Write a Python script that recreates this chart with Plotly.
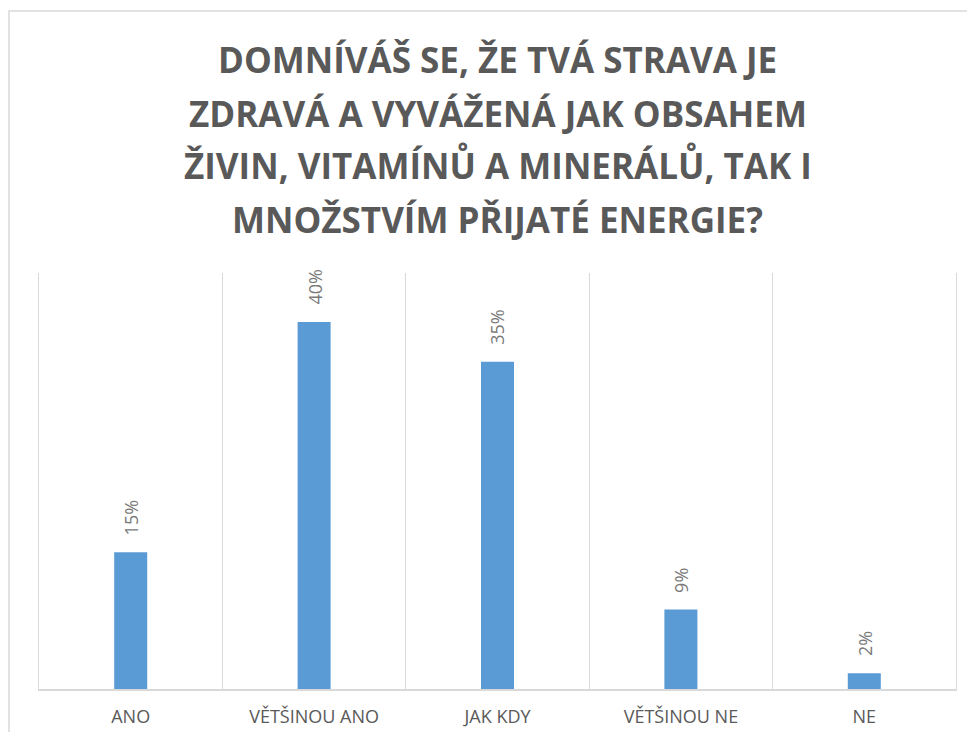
import plotly.graph_objects as go

categories = ['ANO', 'VĚTŠINOU ANO', 'JAK KDY', 'VĚTŠINOU NE', 'NE']
shares = [0.148, 0.397, 0.354, 0.086, 0.017]
title_lines = [
    'DOMNÍVÁŠ SE, ŽE TVÁ STRAVA JE',
    'ZDRAVÁ A VYVÁŽENÁ JAK OBSAHEM',
    'ŽIVIN, VITAMÍNŮ A MINERÁLŮ, TAK I',
    'MNOŽSTVÍM PŘIJATÉ ENERGIE?',
]

# the page body keeps its default 8px margin, so work in page pixels minus 8
OFF = 8
W, H = 975 - 2 * OFF, 740 - 2 * OFF
L, R, T, B = 39 - OFF, W - (956 - OFF), 273 - OFF, H - (689 - OFF)
plot_w, plot_h = W - L - R, H - T - B


def px_x(px):
    return (px - OFF - L) / plot_w


def px_y(py):
    return (H - B - (py - OFF)) / plot_h


fig = go.Figure(go.Bar(
    x=categories, y=shares,
    marker=dict(color='#5b9bd5', line=dict(width=0)),
    hoverinfo='skip',
))

# rotated data labels above the bars
for cat, val in zip(categories, shares):
    fig.add_annotation(x=cat, y=val, text=f'{val:.0%}', textangle=-90,
                       showarrow=False, yanchor='bottom', yshift=15,
                       font=dict(family='Open Sans', size=18, color='#7a7a7a'))

# title, one line per annotation to keep the wide line spacing
for i, line in enumerate(title_lines):
    fig.add_annotation(x=0.5, xref='paper', y=px_y(60 + i * 53), yref='paper',
                       text=line, showarrow=False, yanchor='middle',
                       font=dict(family='Open Sans', size=35, color='#595959',
                                 weight='bold'))

# chart frame
fig.add_shape(type='rect', xref='paper', yref='paper',
              x0=px_x(9), x1=px_x(1000), y0=px_y(780), y1=px_y(11),
              line=dict(color='#d9d9d9', width=1.5), layer='below')

fig.update_layout(
    width=W, height=H,
    margin=dict(l=L, r=R, t=T, b=B, autoexpand=False),
    paper_bgcolor='white', plot_bgcolor='white',
    bargap=0.82,
    showlegend=False,
    xaxis=dict(
        automargin=False,
        tickson='boundaries', showgrid=True, gridcolor='#d9d9d9', gridwidth=1,
        showline=True, linecolor='#d9d9d9', linewidth=1.5,
        ticks='', ticklabelstandoff=11,
        tickfont=dict(family='Open Sans', size=18, color='#595959'),
    ),
    yaxis=dict(
        automargin=False,
        range=[0, 0.45], showgrid=False, zeroline=False, showticklabels=False,
        showline=True, mirror=True, linecolor='#d9d9d9', linewidth=1,
    ),
)

fig.write_html('out.html')
